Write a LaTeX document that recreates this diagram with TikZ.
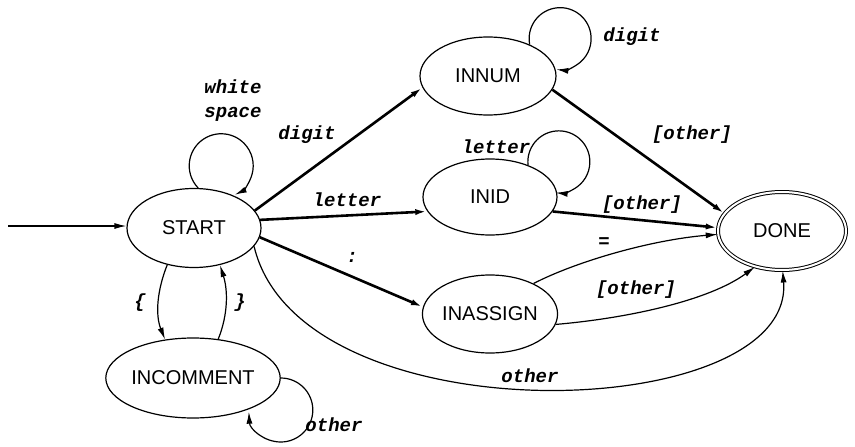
\documentclass[tikz,border=0pt]{standalone}
\usepackage{fontspec}
\setmainfont{Liberation Sans}
\newfontfamily\lblfont{Liberation Mono}
\usetikzlibrary{arrows.meta,shapes.geometric}
\tikzset{
  state/.style={ellipse, draw, line width=1.2pt, inner sep=0pt, minimum width=134pt, minimum height=79pt, font=\fontsize{20pt}{22pt}\selectfont},
  accept/.style={state, double, double distance=2pt, line width=1pt, minimum width=128pt, minimum height=78pt},
  thickedge/.style={line width=2.6pt, -{Latex[length=12pt,width=6pt]}},
  thinedge/.style={line width=1.2pt, -{Latex[length=12pt,width=6pt]}},
  lbl/.style={font=\lblfont\bfseries\itshape\fontsize{19pt}{21pt}\selectfont, inner sep=0pt, align=center}
}
\begin{document}
\begin{tikzpicture}[x=1pt,y=-1pt]
\useasboundingbox (0,0) rectangle (855,447);
\node[state] (START) at (194,228) {START};
\node[state, minimum width=136pt, minimum height=78pt] (INNUM) at (488,76) {INNUM};
\node[state, minimum height=76pt] (INID) at (490,197) {INID};
\node[state, minimum height=78pt] (INASSIGN) at (490,314) {INASSIGN};
\node[state, minimum width=136pt, minimum height=80pt] (INCOMMENT) at (193,378) {INCOMMENT};
\node[accept] (DONE) at (782,231) {DONE};
\coordinate (in) at (8,226);

% start arrow
\draw[thinedge] (in) -- (START.west |- in);

% self loops
\draw[thinedge] (START.84) arc[start angle=136, end angle=425, radius=32];
\draw[thinedge] (INNUM.37) arc[start angle=169, end angle=457, radius=31];
\draw[thinedge] (INID.40) arc[start angle=174, end angle=456, radius=31];
\draw[thinedge] (INCOMMENT.east) arc[start angle=270, end angle=537, radius=32];

% main edges
\draw[thickedge] (START.16) -- (INNUM.190);
\draw[thickedge] (START.7) -- (INID.193);
\draw[thickedge] (START.-8) -- (INASSIGN.174);
\draw[thickedge] (INNUM.-12) -- (DONE.163);
\draw[thickedge] (INID.-13) -- (DONE.177);
\draw[thinedge] (INASSIGN.35) .. controls (575,262) and (650,240) .. (DONE.183);
\draw[thinedge] (INASSIGN.-9) .. controls (630,318) and (710,300) .. (DONE.233);
\draw[thinedge] (START.-17) .. controls (300,440) and (795,425) .. (DONE.-89);
\draw[thinedge] (START.234) .. controls +(-10,25) and +(-10,-25) .. (INCOMMENT.126);
\draw[thinedge] (INCOMMENT.57) .. controls +(10,-25) and +(8,25) .. (START.-55);

% labels
\node[lbl] (lws) at (233,101) {white\\[3pt]space};
\node[lbl] (ldigit1) at (307,135) {digit};
\node[lbl] (lletter1) at (347,200) {letter};
\node[lbl] (lcolon) at (352,257) {:};
\node[lbl] (ldigit2) at (632,37) {digit};
\node[lbl] (lletter2) at (496,147) {letter};
\node[lbl] (lo1) at (692,135) {[other]};
\node[lbl] (lo2) at (642,205) {[other]};
\node[lbl] (leq) at (604,243) {=};
\node[lbl] (lo3) at (636,290) {[other]};
\node[lbl] (lo4) at (530,376) {other};
\node[lbl] (llb) at (140,303) {\{};
\node[lbl] (lrb) at (240,303) {\}};
\node[lbl] (lo5) at (334,425) {other};
\end{tikzpicture}
\end{document}
